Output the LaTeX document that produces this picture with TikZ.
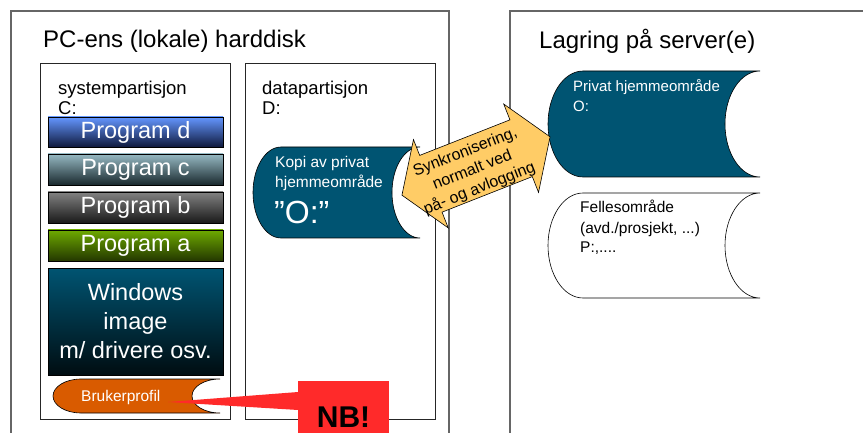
\documentclass[tikz,border=0pt]{standalone}
\usepackage{fontspec}
\setmainfont{Liberation Sans}
\usetikzlibrary{positioning,calc}
\definecolor{diskteal}{RGB}{0,84,114}
\definecolor{syncyellow}{RGB}{255,204,102}
\definecolor{profilorange}{RGB}{217,91,0}
\definecolor{nbred}{RGB}{255,42,42}
\definecolor{progdtop}{RGB}{100,150,255}
\definecolor{progdbot}{RGB}{15,25,60}
\definecolor{progctop}{RGB}{150,185,195}
\definecolor{progcbot}{RGB}{25,40,45}
\definecolor{progbtop}{RGB}{130,130,130}
\definecolor{progbbot}{RGB}{25,25,25}
\definecolor{progatop}{RGB}{110,170,0}
\definecolor{progabot}{RGB}{35,55,0}

\begin{document}
\begin{tikzpicture}[x=1pt, y=1pt,
    frame/.style={draw=black!60, line width=1.2pt},
    partition/.style={draw=black!85, line width=0.8pt},
    heading/.style={anchor=base west, inner sep=0pt, font=\fontsize{24}{28}\selectfont},
    partlabel/.style={anchor=base west, inner sep=0pt, align=left, font=\fontsize{18.5}{20}\selectfont},
    program/.style={draw=black, line width=0.6pt, minimum width=175pt, inner sep=0pt,
        text=white, align=center, font=\fontsize{23.5}{29}\selectfont},
    store/.style={draw=black, line width=0.6pt},
    storetext/.style={anchor=base west, inner sep=0pt, align=left, font=\fontsize{15.5}{20}\selectfont},
    syncarrow/.style={draw=black, line width=0.6pt, fill=syncyellow}
]
    \useasboundingbox (0,0) rectangle (863,-433);
    \clip (0,0) rectangle (863,-433);

    % Local disk and server
    \draw[frame] (11,-11) rectangle (449,-450);
    \draw[frame] (510,-11) rectangle (880,-450);
    \node[heading] (pctitle) at (43,-48) {PC-ens (lokale) harddisk};
    \node[heading] (servertitle) at (539,-49) {Lagring på server(e)};

    % Partitions (base = last line)
    \draw[partition] (40,-63) rectangle (230,-419);
    \draw[partition] (245,-63) rectangle (435,-419);
    \node[partlabel] (syslabel) at (58,-115) {systempartisjon\\C:};
    \node[partlabel] (datalabel) at (262,-115) {datapartisjon\\D:};

    % Programs on C:
    \node[program, minimum height=30pt, top color=progdtop, bottom color=progdbot] (progd) at (135.5,-132) {Program d};
    \node[program, minimum height=31pt, top color=progctop, bottom color=progcbot] (progc) at (135.5,-169.5) {Program c};
    \node[program, minimum height=31pt, top color=progbtop, bottom color=progbbot] (progb) at (135.5,-207.5) {Program b};
    \node[program, minimum height=31pt, top color=progatop, bottom color=progabot] (proga) at (135.5,-245.5) {Program a};
    \node[program, minimum height=107pt, top color=diskteal, bottom color=diskteal!15!black] (windows) at (135.5,-321.5) {Windows\\image\\m/ drivere osv.};

    % Stored data areas
    \draw[store, fill=profilorange] (81,-379) -- (220,-379) arc[start angle=90, end angle=270, x radius=28pt, y radius=17pt]
        -- (81,-413) arc[start angle=270, end angle=90, x radius=28pt, y radius=17pt] -- cycle;
    \node[storetext, text=white] (profil) at (81,-401) {Brukerprofil};

    \draw[store, fill=diskteal] (281,-147) -- (420,-147) arc[start angle=90, end angle=270, x radius=28pt, y radius=45.5pt]
        -- (281,-238) arc[start angle=270, end angle=90, x radius=28pt, y radius=45.5pt] -- cycle;
    \node[storetext, text=white] (kopi) at (275,-188) {Kopi av privat\\hjemmeområde};
    \node[anchor=base west, inner sep=0pt, text=white, font=\fontsize{32}{36}\selectfont] (kopidrive) at (274,-223) {”O:”};

    \draw[store, fill=diskteal] (583,-71) -- (760,-71) arc[start angle=90, end angle=270, x radius=35pt, y radius=53pt]
        -- (583,-177) arc[start angle=270, end angle=90, x radius=35pt, y radius=53pt] -- cycle;
    \node[storetext, text=white, font=\fontsize{15}{20}\selectfont] (privat) at (573,-112) {Privat hjemmeområde\\O:};

    \draw[store, fill=white] (583,-193) -- (760,-193) arc[start angle=90, end angle=270, x radius=35pt, y radius=52.5pt]
        -- (583,-298) arc[start angle=270, end angle=90, x radius=35pt, y radius=52.5pt] -- cycle;
    \node[storetext] (felles) at (580,-253) {Fellesområde\\(avd./prosjekt, ...)\\P:,....};

    % Synchronisation arrow
    \begin{scope}[shift={(476,-166)}, rotate=21.5]
        \draw[syncarrow] (79.6,0) -- (48.5,47.5) -- (48.5,30.5) -- (-48.5,30.5) -- (-48.5,47.5) -- (-79.6,0)
            -- (-48.5,-47.5) -- (-48.5,-30.5) -- (48.5,-30.5) -- (48.5,-47.5) -- cycle;
        \node[rotate=21.5, align=center, inner sep=0pt, font=\fontsize{16}{19.5}\selectfont] (sync) at (-5,-3)
            {Synkronisering,\\normalt ved\\på- og avlogging};
    \end{scope}

    % NB callout
    \node[fill=nbred, anchor=north west, minimum width=91pt, minimum height=70pt, inner sep=0pt] (nb) at (298,-381) {};
    \coordinate (nbtip) at (168,-402);
    \fill[nbred] (nbtip) -- ([yshift=-11pt]nb.north west) -- ([yshift=-29pt]nb.north west) -- cycle;
    \node[anchor=base, inner sep=0pt, font=\bfseries\fontsize{30}{34}\selectfont] (nbtext) at (343.5,-427) {NB!};
\end{tikzpicture}
\end{document}
